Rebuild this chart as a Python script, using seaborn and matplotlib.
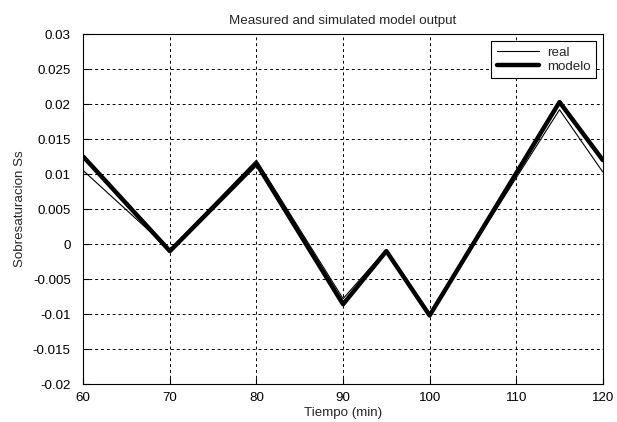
import numpy as np
import pandas as pd
import matplotlib
matplotlib.use("Agg")
import matplotlib.pyplot as plt
import seaborn as sns
from matplotlib.lines import Line2D

# data
tiempo = [60, 70, 80, 90, 95, 100, 115, 120]
real = [0.0105, -0.0008, 0.0120, -0.0078, -0.0008, -0.0100, 0.0192, 0.0103]
modelo = [0.0125, -0.0010, 0.0115, -0.0086, -0.0010, -0.0102, 0.0203, 0.0120]

xticks = [60, 70, 80, 90, 100, 110, 120]
yticks = [-0.02, -0.015, -0.01, -0.005, 0, 0.005, 0.01, 0.015, 0.02, 0.025, 0.03]
ytick_labels = ["-0.02", "-0.015", "-0.01", "-0.005", "0", "0.005", "0.01",
                "0.015", "0.02", "0.025", "0.03"]

sns.set_style("ticks")
plt.rcParams['font.family'] = ['Liberation Sans', 'DejaVu Sans']
FS = 9.6

df = pd.DataFrame({'Tiempo': tiempo * 2,
                   'Ss': real + modelo,
                   'serie': ['real'] * len(tiempo) + ['modelo'] * len(tiempo)})

fig = plt.figure(figsize=(6.17, 4.22), dpi=100)
ax = fig.add_axes([0.135, 0.09, 0.842, 0.829])

sns.lineplot(data=df, x='Tiempo', y='Ss', hue='serie', size='serie',
             sizes={'real': 0.8, 'modelo': 3.2},
             palette={'real': 'black', 'modelo': 'black'},
             ax=ax, legend=False, estimator=None, sort=False)

ax.set_xlim(60, 120)
ax.set_ylim(-0.02, 0.03)
ax.set_xticks(xticks)
ax.set_yticks(yticks)
ax.set_yticklabels(ytick_labels)
ax.tick_params(direction='in', length=4, width=0.8, colors='black', labelsize=FS)
ax.tick_params(axis='y', pad=9)
ax.tick_params(axis='x', pad=6)
ax.grid(True, color='black', linestyle=(0, (3, 3)), linewidth=0.7)
for s in ax.spines.values():
    s.set_color('black')
    s.set_linewidth(0.8)

ax.set_xlabel('Tiempo (min)', fontsize=FS, labelpad=2)
ax.set_ylabel('Sobresaturacion Ss', fontsize=FS, labelpad=5)
ax.set_title('Measured and simulated model output', fontsize=FS, pad=7)

handles = [Line2D([], [], color='black', lw=0.8), Line2D([], [], color='black', lw=3.2)]
leg = ax.legend(handles, ['real', 'modelo'], loc='upper right', fancybox=False,
                framealpha=1, edgecolor='black', fontsize=FS, borderaxespad=0.5,
                handlelength=3.2, labelspacing=0.15, borderpad=0.4, handletextpad=0.6)
leg.get_frame().set_linewidth(0.8)

fig.savefig('out.png', dpi=100)
